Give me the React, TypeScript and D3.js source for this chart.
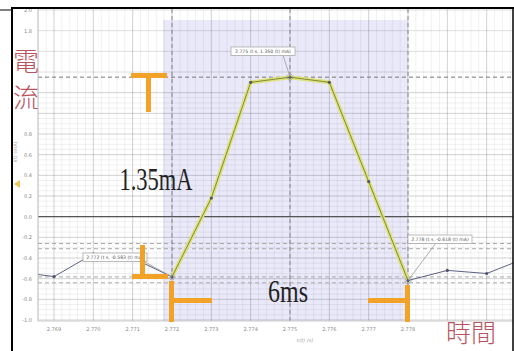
import React from "react";
import * as d3 from "d3";

const times = [2.768, 2.769, 2.77, 2.771, 2.772, 2.773, 2.774, 2.775, 2.776, 2.777, 2.778, 2.779, 2.78, 2.781];
const currents = [-0.53, -0.58, -0.36, -0.4, -0.583, 0.18, 1.3, 1.35, 1.3, 0.34, -0.618, -0.52, -0.55, -0.4];
const pulseStart = 2.772;
const pulseEnd = 2.778;
const peakTime = 2.775;
const xTickLabels = ["2.769", "2.770", "2.771", "2.772", "2.773", "2.774", "2.775", "2.776", "2.777", "2.778"];
const yGridValues = [-1.0, -0.8, -0.6, -0.4, -0.2, 0.0, 0.2, 0.4, 0.6, 0.8, 1.0, 1.2, 1.4, 1.6, 1.8, 2.0];
// labels hidden behind the 電流 annotation are not shown
const yTickLabels = ["-1.0", "-0.8", "-0.6", "-0.4", "-0.2", "0.0", "0.2", "0.4", "0.6", "0.8", "1.8", "2.0"];
const refLevels = [1.35, -0.26, -0.31, -0.583, -0.64];
const callouts = [
  { t: 2.772, v: -0.583, label: "2.772 (t s, -0.583 (t) mA)", bx: 83, by: 253, lx: 145, ly: 262 },
  { t: 2.775, v: 1.35, label: "2.775 (t s, 1.350 (t) mA)", bx: 231, by: 47, lx: 283, ly: 55 },
  { t: 2.778, v: -0.618, label: "2.778 (t s, -0.618 (t) mA)", bx: 408, by: 235, lx: 436, ly: 243 },
];

const W = 514;
const H = 351;
const plotL = 38;
const plotR = 513;
const plotT = 9;
const plotB = 321;

export default function App() {
  const x = d3.scaleLinear().domain([2.772, 2.778]).range([172, 408]);
  const y = d3.scaleLinear().domain([-1.0, 2.0]).range([320, 10]);

  const pts = times.map((t, i) => ({ t, v: currents[i] }));
  const line = d3
    .line<{ t: number; v: number }>()
    .x((d) => x(d.t))
    .y((d) => y(d.v));
  const pulsePts = pts.filter((d) => d.t >= pulseStart - 1e-9 && d.t <= pulseEnd + 1e-9);

  const xMinor = d3.range(-60, 60).map((i) => 2.772 + i * 0.0002).filter((t) => x(t) > plotL && x(t) < plotR);
  const xMajor = d3.range(-6, 12).map((i) => 2.772 + i * 0.001).filter((t) => x(t) > plotL && x(t) < plotR);
  const yMinor = d3.range(-20, 45).map((i) => -1 + i * 0.05).filter((v) => y(v) > plotT && y(v) < plotB);

  const orange = "#f2a227";
  const red = "#b9535d";

  return (
    <div style={{ position: "fixed", left: 0, top: 0 }}>
      <svg width={W} height={H} style={{ display: "block", background: "#fff" }}>
        <defs>
          <clipPath id="plotclip">
            <rect x={plotL} y={plotT} width={plotR - plotL} height={plotB - plotT} />
          </clipPath>
        </defs>
        {/* shaded pulse region */}
        <rect x={163} y={20} width={x(pulseEnd) - 163} height={plotB - 20} fill="#e9e9fa" />
        <g clipPath="url(#plotclip)">
          {xMinor.map((t, i) => (
            <line key={"xm" + i} x1={x(t)} x2={x(t)} y1={plotT} y2={plotB} stroke="rgba(0,0,0,0.06)" strokeWidth={1} />
          ))}
          {yMinor.map((v, i) => (
            <line key={"ym" + i} x1={plotL} x2={plotR} y1={y(v)} y2={y(v)} stroke="rgba(0,0,0,0.06)" strokeWidth={1} />
          ))}
          {xMajor.map((t, i) => (
            <line key={"xM" + i} x1={x(t)} x2={x(t)} y1={plotT} y2={plotB} stroke="rgba(0,0,0,0.13)" strokeWidth={1} />
          ))}
          {yGridValues.map((v, i) => (
            <line key={"yM" + i} x1={plotL} x2={plotR} y1={y(v)} y2={y(v)} stroke="rgba(0,0,0,0.13)" strokeWidth={1} />
          ))}
          {/* zero line */}
          <line x1={plotL} x2={plotR} y1={y(0)} y2={y(0)} stroke="#555" strokeWidth={1.2} />
          {/* reference dashed levels */}
          {refLevels.map((v, i) => (
            <line key={"rl" + i} x1={plotL} x2={plotR} y1={y(v)} y2={y(v)} stroke={i === 0 ? "#777" : "#aaa"} strokeWidth={1} strokeDasharray="4,3" />
          ))}
          {[pulseStart, peakTime, pulseEnd].map((t, i) => (
            <line key={"vl" + i} x1={x(t)} x2={x(t)} y1={plotT} y2={plotB} stroke="#888" strokeWidth={1} strokeDasharray="4,3" />
          ))}
          {/* data line */}
          <path d={line(pts) || ""} fill="none" stroke="#5c6283" strokeWidth={1} />
          <path d={line(pulsePts) || ""} fill="none" stroke="#dfe27a" strokeWidth={4} strokeLinejoin="round" />
          <path d={line(pulsePts) || ""} fill="none" stroke="#7f8b3c" strokeWidth={1} strokeLinejoin="round" />
          {pts.map((d, i) => (
            <circle key={"p" + i} cx={x(d.t)} cy={y(d.v)} r={1.6} fill="#4f5468" />
          ))}
        </g>
        {/* axis line */}
        <line x1={plotL} x2={plotL} y1={plotT} y2={plotB} stroke="#bbb" strokeWidth={1} />
        <line x1={plotL} x2={plotR} y1={plotB} y2={plotB} stroke="#ccc" strokeWidth={1} />
        {/* y tick labels */}
        {yTickLabels.map((s, i) => (
          <text key={"yt" + i} x={32} y={y(+s) + 2} fontSize={5} fill="#888" textAnchor="end" fontFamily="DejaVu Sans">
            {s}
          </text>
        ))}
        {/* x tick labels */}
        {xTickLabels.map((s, i) => (
          <text key={"xt" + i} x={x(+s)} y={331} fontSize={5} fill="#888" textAnchor="middle" fontFamily="DejaVu Sans">
            {s}
          </text>
        ))}
        <text x={305} y={342} fontSize={5} fill="#999" textAnchor="middle" fontStyle="italic" fontFamily="DejaVu Sans">
          c(t) (s)
        </text>
        <text transform="translate(17,152) rotate(-90)" fontSize={5} fill="#aaa" textAnchor="middle" fontFamily="DejaVu Sans">
          I(t) (mA)
        </text>
        <path d="M14,184 L20,180 L20,188 Z" fill="#e8c85a" />
        {/* callouts */}
        {callouts.map((c, i) => (
          <g key={"c" + i}>
            <line x1={c.lx} y1={c.ly} x2={x(c.t)} y2={y(c.v)} stroke="#999" strokeWidth={0.8} />
            <circle cx={x(c.t)} cy={y(c.v)} r={3} fill="none" stroke="#888" strokeWidth={0.8} strokeDasharray="1.5,1" />
            <rect x={c.bx} y={c.by} width={64} height={8.5} fill="#fff" stroke="#aaa" strokeWidth={0.8} />
            <text x={c.bx + 32} y={c.by + 6} fontSize={4.6} fill="#555" textAnchor="middle" fontFamily="DejaVu Sans">
              {c.label}
            </text>
          </g>
        ))}
        {/* orange annotations */}
        <g fill={orange}>
          <rect x={131} y={73} width={36} height={5} />
          <rect x={146} y={78} width={5} height={34} />
          <rect x={132} y={274} width={36} height={5} />
          <rect x={140} y={245} width={5} height={29} />
          <rect x={169} y={281} width={5} height={41} />
          <rect x={174} y={298} width={38} height={5} />
          <rect x={405} y={285} width={5} height={37} />
          <rect x={368} y={298} width={37} height={5} />
        </g>
        <text x={156} y={190} fontSize={31} fontFamily="Liberation Serif" fill="#222" textAnchor="middle" textLength={73} lengthAdjust="spacingAndGlyphs">
          1.35mA
        </text>
        <text x={288} y={302} fontSize={31} fontFamily="Liberation Serif" fill="#222" textAnchor="middle" textLength={40} lengthAdjust="spacingAndGlyphs">
          6ms
        </text>
        <text x={13} y={71} fontSize={26} fill={red} fontFamily="Noto Sans CJK TC" fontWeight={300}>
          電
        </text>
        <text x={13} y={107} fontSize={26} fill={red} fontFamily="Noto Sans CJK TC" fontWeight={300}>
          流
        </text>
        <rect x={440} y={323} width={60} height={27} fill="#fff" />
        <text x={446} y={342} fontSize={25} fill={red} fontFamily="Noto Sans CJK TC" fontWeight={300}>
          時間
        </text>
        {/* frame */}
        <line x1={0} x2={12} y1={10} y2={10} stroke="#000" strokeWidth={1} />
        <line x1={12} x2={12} y1={7} y2={H} stroke="#000" strokeWidth={2} />
        <line x1={11} x2={514} y1={8} y2={8} stroke="#000" strokeWidth={2} />
        <line x1={513} x2={513} y1={7} y2={H} stroke="#000" strokeWidth={1.5} />
      </svg>
    </div>
  );
}
